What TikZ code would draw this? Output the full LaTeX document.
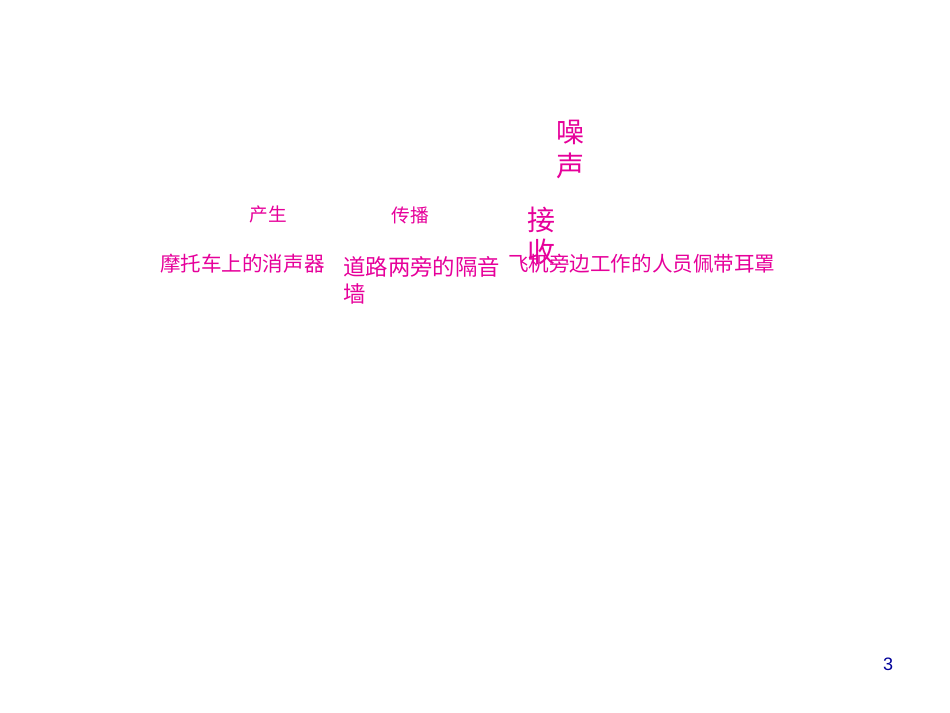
\documentclass[tikz,border=0pt]{standalone}
\usepackage{fontspec}
\usepackage{xcolor}
\setmainfont{Liberation Sans}
\newfontfamily\cjk{Noto Sans CJK SC}
\definecolor{noisepink}{HTML}{E6009A}
\definecolor{pagenum}{HTML}{000099}
\tikzset{
	label text/.style={text=noisepink, inner sep=0pt, font=\cjk\fontsize{15.4}{18}\selectfont},
	head text/.style={text=noisepink, inner sep=0pt, font=\cjk\fontsize{14}{17}\selectfont},
	big text/.style={text=noisepink, inner sep=0pt, align=center, font=\cjk\fontsize{21}{25.5}\selectfont}
}

\begin{document}
\begin{tikzpicture}[x=0.75pt, y=-0.75pt]
			% Page
			\useasboundingbox (0,0) rectangle (950,713);

			% Title
			\node[big text] (noise) at (570,150) {噪\\声};

			% Stages
			\node[head text] (produce) at (268,214) {产生};
			\node[head text] (spread) at (410,215) {传播};
			\node[big text, font=\cjk\fontsize{21}{24}\selectfont] (receive) at (541,236) {接\\收};

			% Examples
			\node[label text, anchor=west] (muffler) at (160,264) {摩托车上的消声器};
			\node[label text, anchor=north west, align=left, font=\cjk\fontsize{16.8}{20.25}\selectfont] (wall) at (343,256) {道路两旁的隔音\\墙};
			\node[label text, anchor=west] (earmuff) at (508,264) {飞机旁边工作的人员佩带耳罩};

			% Page number
			\node[text=pagenum, inner sep=0pt, font=\fontsize{13.5}{16}\selectfont] (page) at (888,664) {3};
		\end{tikzpicture}
\end{document}
